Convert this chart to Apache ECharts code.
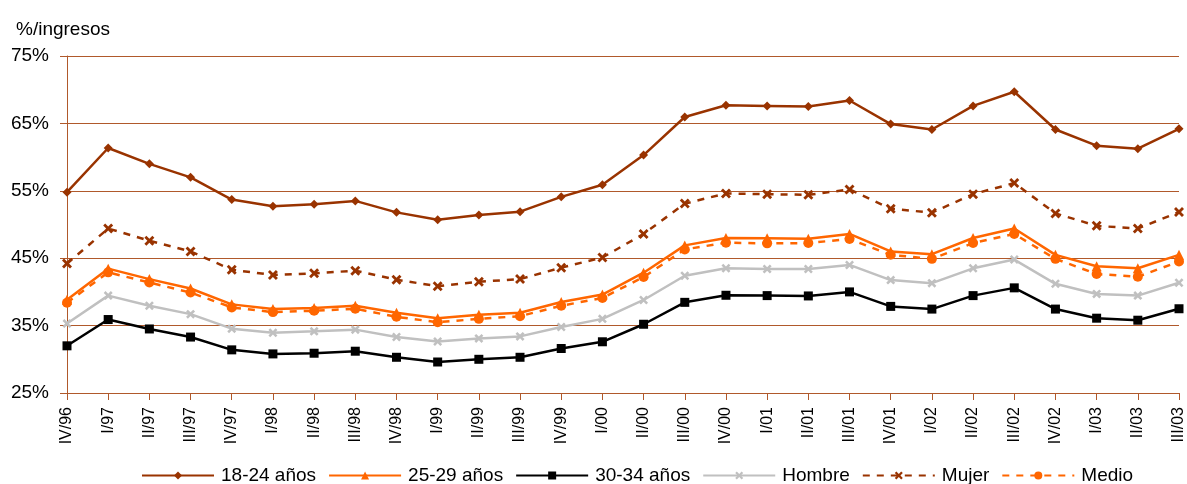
<!DOCTYPE html>
<html>
<head>
<meta charset="utf-8">
<script src="https://cdn.jsdelivr.net/npm/echarts@6/dist/echarts.min.js"></script>
<style>html,body{margin:0;padding:0;background:#fff}#c{width:1187px;height:484px}</style>
</head>
<body>
<div id="c"></div>
<script>
const categories = ['IV/96','I/97','II/97','III/97','IV/97','I/98','II/98','III/98','IV/98','I/99','II/99','III/99','IV/99','I/00','II/00','III/00','IV/00','I/01','II/01','III/01','IV/01','I/02','II/02','III/02','IV/02','I/03','II/03','III/03'];
const s1824 = [54.8,61.35,59.0,57.0,53.7,52.7,53.0,53.5,51.8,50.7,51.4,51.9,54.1,55.9,60.3,65.95,67.7,67.6,67.5,68.4,64.9,64.1,67.6,69.7,64.1,61.7,61.25,64.2];
const s2529 = [38.85,43.45,41.9,40.5,38.15,37.45,37.6,37.95,36.9,36.1,36.6,36.9,38.5,39.6,42.85,46.9,48.0,47.95,47.9,48.6,46.0,45.6,48.0,49.4,45.5,43.8,43.5,45.5];
const s3034 = [32.0,35.9,34.5,33.3,31.4,30.8,30.9,31.2,30.3,29.6,30.0,30.3,31.6,32.6,35.2,38.45,39.5,39.45,39.4,40.0,37.85,37.45,39.45,40.6,37.45,36.1,35.8,37.5];
const hombre = [35.3,39.45,37.95,36.7,34.55,33.95,34.15,34.4,33.3,32.65,33.1,33.4,34.8,36.0,38.8,42.4,43.5,43.4,43.4,44.0,41.75,41.3,43.5,44.8,41.2,39.7,39.45,41.35];
const mujer = [44.2,49.4,47.6,46.0,43.3,42.5,42.75,43.15,41.8,40.85,41.5,41.9,43.6,45.1,48.6,53.1,54.6,54.5,54.4,55.2,52.35,51.75,54.5,56.15,51.65,49.8,49.4,51.85];
const medio = [38.4,42.9,41.4,39.9,37.7,37.0,37.2,37.5,36.3,35.5,36.0,36.4,37.95,39.1,42.2,46.3,47.3,47.2,47.25,47.85,45.5,44.9,47.25,48.6,44.9,42.65,42.25,44.5];
const names = ['18-24 años','25-29 años','30-34 años','Hombre','Mujer','Medio'];

const FONT = "'Liberation Sans',Arial,sans-serif";
const GRIDC = '#b0592b';
const XSYM = 'path://M0,2 L2,0 L5,3 L8,0 L10,2 L7,5 L10,8 L8,10 L5,7 L2,10 L0,8 L3,5 Z';

function mk(name, data, color, symbol, size, dashed) {
  return {
    name, type: 'line', data, symbol, symbolSize: size, showSymbol: true,
    lineStyle: { color, width: 2.5, type: dashed ? [7, 7] : 'solid' },
    itemStyle: { color },
    emphasis: { disabled: true },
    animation: false
  };
}

const chart = echarts.init(document.getElementById('c'));
chart.setOption({
  animation: false,
  textStyle: { fontFamily: FONT },
  title: {
    text: '%/ingresos', left: 11, top: 15,
    textStyle: { fontFamily: FONT, fontSize: 19, fontWeight: 'normal', color: '#000' }
  },
  grid: { left: 67, right: 2, top: 56, bottom: 91, containLabel: false },
  legend: {
    data: names, left: 136, top: 461, itemWidth: 72, itemHeight: 10, itemGap: 12,
    textStyle: { fontFamily: FONT, fontSize: 19, color: '#000', padding: [0, 0, 0, 2] }
  },
  xAxis: {
    type: 'category', data: categories, boundaryGap: false,
    axisLine: { lineStyle: { color: GRIDC, width: 1 } },
    axisTick: { show: true, interval: 0, length: 7, lineStyle: { color: GRIDC } },
    axisLabel: { interval: 0, rotate: 90, margin: 14, fontFamily: FONT, fontSize: 16, color: '#000' },
    splitLine: { show: false }
  },
  yAxis: {
    type: 'value', min: 25, max: 75, interval: 10,
    axisLine: { show: true, lineStyle: { color: GRIDC, width: 1 } },
    axisTick: { show: true, length: 7, lineStyle: { color: GRIDC } },
    axisLabel: { formatter: '{value}%', margin: 18, fontFamily: FONT, fontSize: 19, color: '#000' },
    splitLine: { show: true, lineStyle: { color: GRIDC, width: 1 } }
  },
  series: [
    mk(names[0], s1824, '#993300', 'diamond', 9, false),
    mk(names[1], s2529, '#ff6600', 'triangle', 10, false),
    mk(names[2], s3034, '#000000', 'rect', 9, false),
    mk(names[3], hombre, '#c0c0c0', XSYM, 9, false),
    mk(names[4], mujer, '#993300', XSYM, 10, true),
    mk(names[5], medio, '#ff6600', 'circle', 10, true)
  ]
});
</script>
</body>
</html>
